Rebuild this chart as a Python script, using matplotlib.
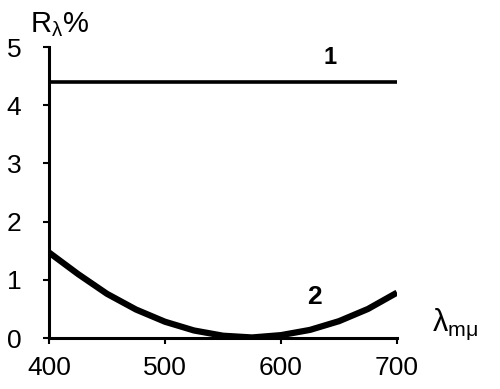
import matplotlib
matplotlib.use("Agg")
import matplotlib.pyplot as plt

# curve 1: flat reflectance
wl1 = [400, 700]
r1 = [4.4, 4.4]

# curve 2
wl2 = [400, 425, 450, 475, 500, 525, 550, 575, 600, 625, 650, 675, 700]
r2 = [1.47, 1.1, 0.76, 0.49, 0.28, 0.13, 0.04, 0.01, 0.05, 0.14, 0.29, 0.5, 0.78]

xticks = [400, 500, 600, 700]
yticks = [0, 1, 2, 3, 4, 5]

plt.rcParams['font.family'] = ['Liberation Sans', 'DejaVu Sans']
plt.rcParams['mathtext.fontset'] = 'custom'
plt.rcParams['mathtext.rm'] = 'Liberation Sans'

fig = plt.figure(figsize=(5, 3.89), dpi=100)
ax = fig.add_axes([0.098, 0.131, 0.696, 0.748])

ax.plot(wl1, r1, color='black', lw=2.6, solid_capstyle='butt')
ax.plot(wl2, r2, color='black', lw=4.5, solid_capstyle='butt')

ax.set_xlim(400, 700)
ax.set_ylim(0, 5)
ax.set_xticks(xticks)
ax.set_yticks(yticks)
ax.tick_params(labelsize=19, width=1.5, length=4, pad=9)
ax.tick_params(axis='y', pad=16)
for s in ['top', 'right']:
    ax.spines[s].set_visible(False)
for s in ['left', 'bottom']:
    ax.spines[s].set_linewidth(2.2)

ax.text(642, 4.62, '1', fontsize=17, weight='bold', ha='center', va='bottom')
ax.text(629, 0.5, '2', fontsize=19, weight='bold', ha='center', va='bottom')
fig.text(0.06, 0.9, r'R$_{\mathrm{\lambda}}$%', fontsize=21, ha='left', va='bottom')
fig.text(0.865, 0.12, r'$\mathrm{\lambda}_{\mathrm{m\mu}}$', fontsize=22, ha='left', va='bottom')

fig.savefig('out.png', dpi=100)
